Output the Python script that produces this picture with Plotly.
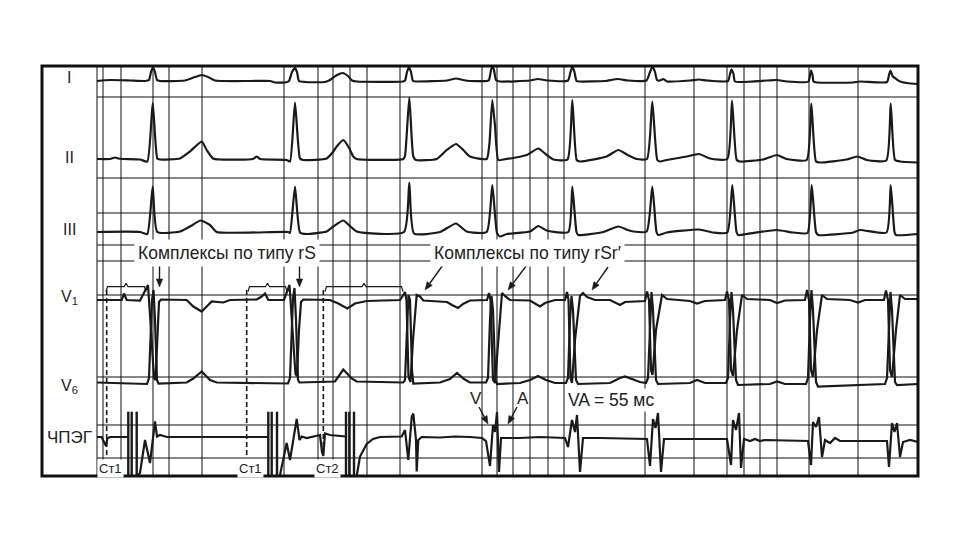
import math
import plotly.graph_objects as go

# ---------------- data ----------------
# time axis (px of the tracing) and amplitude (up = positive) for every lead
I_t = [97, 110, 130, 145, 149, 151, 153, 155, 157, 160, 185, 195, 202, 208, 215, 250, 270, 275, 285, 289, 292, 295, 297, 299,
       305, 325, 330, 337, 343, 348, 352, 357, 403, 405, 407, 409, 411, 413, 417, 447, 456, 463, 470, 487, 489, 491, 492.5,
       494, 496, 500, 530, 538, 547, 568, 570.5, 572.5, 574.5, 576.5, 580, 605, 618, 628, 646.5, 650, 652.5, 655, 657, 660,
       663.5, 667, 690, 699, 707, 728, 730, 731.5, 733.5, 735, 767, 777, 787, 808.5, 810, 811, 812.5, 813.5, 817, 853, 860,
       887, 889, 890.5, 892.5, 900, 907, 918]
I_a = [-1, 0, -0.5, -1, 0, 8, 13, 8, 0, -1, -0.5, 3, 5, 3, -0.5, -1, -1, -2.5, -2.5, -1, 8, 12, 8, -1,
       -2, -2, 0, 5, 7, 4, -0.5, -1.5, -1.5, -0.5, 8, 13, 8, -1, -1.5, -0.5, 1.5, 0, -1, -1, 0, 10, 14,
       10, 0, -1.5, -0.5, 1, -0.5, -0.5, 8, 13.5, 8, -1, -1.5, -1, 1, -0.5, -0.5, 8, 13.5, 8, 0, -0.5,
       1, -1.5, -0.5, 0.5, -0.5, -1, 6, 10.5, 6, -1.5, -0.5, 0, -1.5, -1.5, 5, 9.5, 5, -1.5, -2.5, -2.5, -1.5,
       -2, 5, 9.5, 4, -1.5, -3, -4]

II_t = [97, 110, 115, 118, 123, 140, 147.3, 152.7, 157.3, 160, 180, 190, 201.7, 206.7, 213, 220, 253, 256.7, 260, 286.7,
        290, 295, 300, 303.3, 326.7, 333.3, 336.7, 343.3, 348.3, 353.3, 356.7, 403.3, 405, 409.3, 413.3, 416, 436.7,
        446.7, 456, 463.3, 470, 486.7, 489.3, 492.3, 495, 498.3, 503.3, 526.7, 538.3, 546.7, 553.3, 567.5, 572.3,
        576.7, 580, 606.7, 618.3, 627.7, 636.7, 647, 652.3, 657.3, 660, 666.7, 686.7, 699, 710, 727.3, 732, 736.7,
        740, 763.3, 776.7, 786.7, 806.7, 811.3, 816, 820, 846.7, 857.3, 866.7, 886.3, 890.7, 895, 900, 918]
II_a = [0, 0, 1.5, 0.5, 0, -0.5, -2.5, 56, 0.5, -0.5, 0.5, 7.5, 17.5, 9, 0.5, -0.5, 0, 2.5, 0, -1,
        -2.5, 56.5, 0.5, -1, 0.5, 7.5, 12.5, 19, 12.5, 2.5, 0, 0, 3, 61.5, 2.5, -1, 0,
        9, 15, 9, 2.5, 0, 14, 59, 33, -1, -0.5, 4, 10.5, 4, -0.5, -0.5, 59,
        -1, -2.5, 2.5, 9, 4, 0, 0, 57.5, -1, -2.5, -1, 2.5, 5, 0.5, 0, 58.5, -1,
        -2.5, -0.5, 4, 0, -1, 55.5, -2.5, -3.5, -0.5, 2.5, -1, -1.5, 55.5, -1, -2.5, -3.5]

III_t = [97, 140, 147.3, 152.7, 157.3, 180, 190, 200.7, 210, 216.7, 288.3, 290, 295, 300, 306.7, 326.7, 333.3, 343.3,
         350, 356.7, 404, 409.3, 414, 440, 456, 466.7, 486.7, 492.3, 497, 500, 506.7, 530, 538.3, 546.7, 568.3,
         572.3, 576.5, 578.3, 603.3, 618.3, 627.7, 633.3, 646.7, 652.3, 656.5, 658.3, 666.7, 699, 713.3, 727.3,
         732.3, 736.5, 738.3, 746.7, 776.7, 793.3, 807.5, 811.7, 816, 818.3, 853.3, 860, 886.5, 890.7, 894.5,
         896, 918]
III_a = [0, 0, -2, 45.5, 0, 0.5, 5.5, 11.5, 7, 0, 0, -1, 45.5, -0.5, -2, 0.5, 5.5, 11.5,
         6, 0.5, 0, 49.5, -1.5, 0, 8.5, 0.5, 0, 47, -1, -4.5, -2, 0.5, 6, 1.5, 0,
         45.5, 0, -3, 0, 5.5, 2, 0.5, 0.5, 45.5, 0, -3, -0.5, 2.5, -0.5, -0.5,
         47, 0, -3, -2, 2, -0.5, -1, 47, 0, -3, -0.5, 2, -0.5, 47, 0,
         -3, -2]

V1_t = [97, 121.7, 124, 126.7, 140, 145.5, 148, 151, 154, 155.5, 157.5, 159, 161, 186.7, 193.3, 201.7, 206.7,
        211.7, 223.3, 230, 256.7, 261.7, 265, 268.3, 284, 287, 289.5, 292.5, 295.5, 297, 299, 301, 303.3, 330,
        338.3, 347.3, 355, 366.7, 400, 403.3, 405, 406.5, 408.5, 410.5, 413, 416.7, 420, 423.3, 447, 452, 458,
        463, 470, 487, 489, 490.5, 493, 495, 498, 502, 506, 510, 530, 540, 545, 555, 565, 567, 568.5, 570.5,
        572, 575, 580, 583, 587, 595, 610, 620, 625, 645, 647, 649, 651, 652.5, 656, 662, 667, 690, 697, 705,
        725, 727, 729, 731, 733, 737, 742, 747, 770, 777, 785, 805, 807, 809, 811, 813, 817, 822, 827, 850,
        858, 865, 884, 886, 888, 890, 892, 896, 900, 905, 918]
V1_a = [0, 0, 6.5, 0, -0.5, 10, 15, -30, -78, -80, -30, -2, 0.5, 0, -6.5, -11.5, -6.5,
        -1.5, -2.5, 0, 0.5, 3.5, 6.5, 0, 0, 8.5, 15, -30, -74, -76, -30, -2, 0.5, 0,
        -3.5, -8.5, -3.5, -1, 0, 5, 8, 0, -77, -82, -40, 5, 3.5, -0.5, -2, -5, -8,
        -4, -0.5, 0, 7, 0, -80, -83, -40, 7, 3, 0, -0.5, -6.5, -3, 0, 0, 8, 0, -78,
        -83, -40, 4, 7, 3, 0, 0, -5, -2, -1, 8.5, 0, -70, -75, -30, 5, 1, -1, -3.5, -1,
        0, 8.5, 0, -70, -76, -30, 5, 1, 0, -3, -0.5, 0, 10, 0, -70, -77, -30, 5, 1, 0,
        -2.5, 0, 0, 9.5, 0, -70, -77, -30, 5, 1, 1]

V6_t = [97, 147, 149, 152, 153.5, 155, 157, 158.5, 186.7, 193.3, 201.7, 210, 216.7, 288, 290, 293, 294.5,
        296, 298, 299.5, 335, 343.3, 351.7, 356.7, 403.3, 405, 407, 408.5, 410, 412, 413.3, 440, 450, 457, 464,
        470, 486, 488, 490, 491.5, 493, 495.5, 497, 520, 530, 538, 546, 555, 566, 568, 570, 571.5, 573, 576, 578,
        610, 620, 625, 640, 646, 648, 650, 651.5, 653, 656, 658, 690, 697, 705, 726, 728, 730, 731.5, 733, 736,
        738, 770, 777, 785, 806, 808, 810, 811.5, 813, 816, 818, 850, 885, 887, 889, 890.5, 892, 895, 897, 918]
V6_a = [0.5, -1, 5, 83, 93, 63, 3, -0.5, 0.5, 4.5, 11.5, 3, 0.5, -0.5, 5, 85, 95,
        63, 3, 0.5, 1.5, 13.5, 4.5, 1.5, 0.5, 3, 53, 88, 83, 13, -0.5, 0.5, 4, 10, 4,
        0.5, 0.5, 5, 63, 87, 73, 3, -1, 0, 3, 7, 3, 0, 0, 5, 63, 87, 73, 3, -1,
        0, 5, 6.5, 1, 0, 5, 63, 91, 73, 3, -1, 0, 3, 0, 0, 5, 63, 91, 73, 3,
        -2, -1, 1.5, -1, -1, 5, 63, 93, 73, 1, -3.5, -2, -1, 5, 63, 91, 73, 1, -2, -1]

# oesophageal electrogram (None = trace interrupted by stimulus artefact)
E_t = [97, 101.7, 104, 106, 107.3, 110, 128, None,
       138, 140, 145, 150, 155, 157, 160, 167, 268, None,
       280, 286.7, 290, 296.7, 299.5, 301.7, 306.7, 318, 320, 322, 323.3, 325, 330, 346, None,
       356.7, 360, 366.7, 373, 380, 401.7, 405, 408.3, 411.7, 413.3, 416, 416.7, 418.3, 421.7, 440, 455, 470,
       482, 486, 490, 493, 495, 497, 499, 501, 520, 540, 565, 568, 572, 575, 577, 580, 583, 600, 647, 650, 653,
       655.5, 658, 661, 664, 700, 727, 731, 733, 736, 739, 741, 744, 750, 755, 760, 765, 808, 811, 813, 816,
       819, 822, 825, 830, 835, 840, 887, 889, 892, 894.5, 897, 900, 903, 910, 918]
E_a = [0, 0, -5, -9, -1.5, 0, 0, None,
       -38, -36, -3, -26, 15.5, 0.5, 2, 0, 0, None,
       -38, -6, -23, 18, -3, 0.5, -1, 1, 2, -15, -19, 3.5, 2, 0.5, None,
       -39, -19.5, -7, -2, 0, 0.5, 7, -23, 20, 23.5, -3, -34.5, -3, 0, -0.5, 0.5, 0,
       -1, -4, -29, 12, 5, 25, -35, -1, -1, 0, -1, -10, 17, 5, 22, -35, -1, -1, -2, -29, 18,
       9, 24, -35, -2, -2, -2, -28, 17, 7, 24, -31, -2, -4, -2, -4, -3, -4, -28, 15, 10,
       20, -20, -3, -6, -1, -4, -4, -30, 14, 5, 14, -20, -5, -3, -5]

# stimulus artefacts and stimulation marks
stim_t = [128.3, 131.7, 136.7, 268.3, 271.7, 277, 346, 349.3, 354]
stim_top, stim_bottom = 25.3, -39
mark_t = [106.7, 246.7, 323.3]
mark_labels = ["Ст1", "Ст1", "Ст2"]
brace_spans = [(106, 146), (248, 287), (325, 403)]

lead_names = ["I", "II", "III", "V<sub>1</sub>", "V<sub>6</sub>", "ЧПЭГ"]

# ---------------- layout constants ----------------
base = {"I": 80, "II": 159, "III": 232, "V1": 300, "V6": 383, "E": 437}
label_y = [77, 157, 229, 297, 386, 437]
label_size = [16, 16, 16, 16, 16, 17]
grid_x = [97, 103, 121, 153, 169, 202, 284, 318, 333, 350, 367, 400, 482, 497, 513, 530, 548, 564,
          645, 694, 727, 744, 760, 777, 809, 858]
grid_y = [97, 178, 213, 245, 261, 295, 377, 425, 458]
X0, X1, Y0, Y1 = 42, 918, 66, 476
INK = "#1a1a1a"
FONT = "Liberation Sans, Arial, sans-serif"
PAGE_OFFSET = 8  # the page body margin shifts the figure; compensate in the axis ranges

fig = go.Figure()


def add_lead(t, a, b, width=2.2, smooth=False):
    y = [None if v is None else b - v for v in a]
    line = dict(color=INK, width=width)
    if smooth:
        line.update(shape="spline", smoothing=0.5)
    fig.add_trace(go.Scatter(x=t, y=y, mode="lines", line=line,
                             hoverinfo="skip", showlegend=False, connectgaps=False))


add_lead(I_t, I_a, base["I"], smooth=True)
add_lead(II_t, II_a, base["II"], smooth=True)
add_lead(III_t, III_a, base["III"], smooth=True)
add_lead(V1_t, V1_a, base["V1"])
add_lead(V6_t, V6_a, base["V6"])
add_lead(E_t, E_a, base["E"])

# stimulus artefacts (vertical bars)
sx, sy = [], []
for t in stim_t:
    sx += [t, t, None]
    sy += [base["E"] - stim_top, base["E"] - stim_bottom, None]
fig.add_trace(go.Scatter(x=sx, y=sy, mode="lines", line=dict(color=INK, width=2.4),
                         hoverinfo="skip", showlegend=False))

# braces above V1
bx, by = [], []
for (a0, a1) in brace_spans:
    m = (a0 + a1) / 2
    yb = base["V1"] - 13.3
    bx += [a0, a0 + 1.5, m - 2, m, m + 2, a1 - 1.5, a1, None]
    by += [yb + 5, yb, yb, yb - 3.5, yb, yb, yb + 5, None]
fig.add_trace(go.Scatter(x=bx, y=by, mode="lines", line=dict(color=INK, width=1.2),
                         hoverinfo="skip", showlegend=False))

shapes = []
for gx in grid_x:
    shapes.append(dict(type="line", x0=gx, x1=gx, y0=Y0, y1=Y1, xref="x", yref="y",
                       line=dict(color="#111", width=1), layer="below"))
for gy in grid_y:
    shapes.append(dict(type="line", x0=97, x1=X1, y0=gy, y1=gy, xref="x", yref="y",
                       line=dict(color="#111", width=1), layer="below"))
for t in mark_t:
    shapes.append(dict(type="line", x0=t, x1=t, y0=290, y1=458, xref="x", yref="y",
                       line=dict(color=INK, width=1.6, dash="5px,3px"), layer="above"))
shapes.append(dict(type="rect", x0=X0, x1=X1, y0=Y0, y1=Y1, xref="x", yref="y",
                   line=dict(color="#111", width=3), layer="above"))

# arrows (shaft + filled head)
arrows = [((159.5, 266), (159.5, 287)), ((299.5, 266), (299.5, 287)),
          ((443, 265), (425, 290)), ((527, 265), (508, 290)), ((608, 267), (592, 290)),
          ((479, 407), (488, 424)), ((517, 407), (508, 424))]
for (tx, ty), (hx, hy) in arrows:
    L = math.hypot(hx - tx, hy - ty)
    ux, uy = (hx - tx) / L, (hy - ty) / L
    hl, hw = 8, 3.2
    bxp, byp = hx - ux * hl, hy - uy * hl
    shapes.append(dict(type="line", x0=tx, y0=ty, x1=bxp, y1=byp, xref="x", yref="y",
                       line=dict(color=INK, width=1.4), layer="above"))
    p1 = (bxp - uy * hw, byp + ux * hw)
    p2 = (bxp + uy * hw, byp - ux * hw)
    shapes.append(dict(type="path", xref="x", yref="y", layer="above",
                       path=f"M {hx},{hy} L {p1[0]},{p1[1]} L {p2[0]},{p2[1]} Z",
                       fillcolor=INK, line=dict(color=INK, width=0.5)))

annotations = []
for name, ly, fs in zip(lead_names, label_y, label_size):
    annotations.append(dict(x=69, y=ly, text=name, showarrow=False, xref="x", yref="y",
                            font=dict(family=FONT, size=fs, color="#222")))
for t, lab in zip(mark_t, mark_labels):
    annotations.append(dict(x=t + 4, y=468, text=lab, showarrow=False, xref="x", yref="y",
                            font=dict(family=FONT, size=13, color="#222"), bgcolor="white", borderpad=1))

annotations.append(dict(x=226.5, y=253, text="Комплексы по типу rS", showarrow=False, xref="x", yref="y",
                        font=dict(family=FONT, size=17.5, color="#222"), bgcolor="white", borderpad=3))
annotations.append(dict(x=527, y=253, text="Комплексы по типу rSr′", showarrow=False, xref="x", yref="y",
                        font=dict(family=FONT, size=17.5, color="#222"), bgcolor="white", borderpad=3))
annotations.append(dict(x=611, y=400, text="VA = 55 мс", showarrow=False, xref="x", yref="y",
                        font=dict(family=FONT, size=17.5, color="#222"), bgcolor="white", borderpad=1))
annotations.append(dict(x=476, y=398, text="V", showarrow=False, xref="x", yref="y",
                        font=dict(family=FONT, size=17, color="#222")))
annotations.append(dict(x=523, y=398, text="A", showarrow=False, xref="x", yref="y",
                        font=dict(family=FONT, size=17, color="#222")))

fig.update_layout(
    width=960, height=540, margin=dict(l=0, r=0, t=0, b=0),
    paper_bgcolor="white", plot_bgcolor="white",
    xaxis=dict(range=[PAGE_OFFSET, 960 + PAGE_OFFSET], visible=False, fixedrange=True),
    yaxis=dict(range=[540 + PAGE_OFFSET, PAGE_OFFSET], visible=False, fixedrange=True),
    shapes=shapes, annotations=annotations, showlegend=False,
)

fig.write_html("out.html")
